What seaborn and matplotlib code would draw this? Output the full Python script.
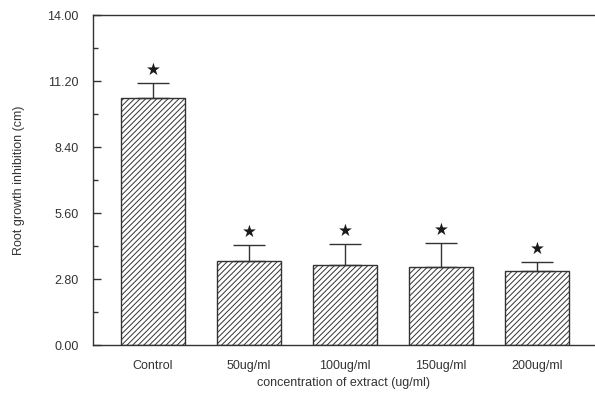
import matplotlib
matplotlib.use("Agg")
import matplotlib.pyplot as plt
import seaborn as sns
import pandas as pd
import numpy as np

categories = ["Control", "50ug/ml", "100ug/ml", "150ug/ml", "200ug/ml"]
root_growth = [10.50, 3.56, 3.39, 3.31, 3.14]
std_err = [0.62, 0.68, 0.90, 1.02, 0.38]
y_ticks = [0.00, 2.80, 5.60, 8.40, 11.20, 14.00]

sns.set_theme(style="white")
plt.rcParams["font.family"] = ["Liberation Sans", "DejaVu Sans"]
plt.rcParams["hatch.linewidth"] = 0.7
plt.rcParams["hatch.color"] = "#3a3a3a"
plt.rcParams["ytick.direction"] = "in"
plt.rcParams["ytick.left"] = True

df = pd.DataFrame({"conc": categories, "growth": root_growth})

fig = plt.figure(figsize=(5.95, 3.98), dpi=100)
ax = fig.add_axes([0.156, 0.133, 0.844, 0.829])

sns.barplot(data=df, x="conc", y="growth", order=categories, color="white",
            edgecolor="#333333", linewidth=1.0, hatch="//////", width=0.667,
            errorbar=None, ax=ax)
for p in ax.patches:
    p.set_facecolor("white")
    p.set_edgecolor("#333333")

xpos = np.arange(len(categories))
ax.errorbar(xpos, root_growth, yerr=[np.zeros(len(std_err)), std_err],
            fmt="none", ecolor="#333333", elinewidth=1.0, capsize=11.5,
            capthick=1.0)

# significance markers above each error bar
for x, v, e in zip(xpos, root_growth, std_err):
    ax.annotate("★", (x, v + e), xytext=(0, 3), textcoords="offset points",
                ha="center", va="bottom", fontsize=12, color="#1a1a1a",
                family="DejaVu Sans")

ax.set_xlim(-0.625, 4.6)
ax.set_ylim(0, 14)
ax.set_yticks(y_ticks)
ax.set_yticklabels([f"{t:.2f}" for t in y_ticks])
ax.set_yticks(np.arange(1.4, 14, 2.8), minor=True)

ax.tick_params(axis="y", which="major", direction="in", length=6, width=1,
               color="#333333", pad=10, labelsize=9, labelcolor="#333333", left=True)
ax.tick_params(axis="y", which="minor", direction="in", length=3.6, width=1,
               color="#333333", left=True)
ax.tick_params(axis="x", length=0, pad=11, labelsize=9, labelcolor="#333333")

for side in ["left", "top", "bottom"]:
    ax.spines[side].set_visible(True)
    ax.spines[side].set_color("#333333")
    ax.spines[side].set_linewidth(1.0)
ax.spines["right"].set_visible(False)

ax.set_xlabel("concentration of extract (ug/ml)", fontsize=9, color="#333333", labelpad=3)
ax.set_ylabel("Root growth inhibition (cm)", fontsize=9, color="#333333", labelpad=16)

fig.savefig("out.png", dpi=100)
